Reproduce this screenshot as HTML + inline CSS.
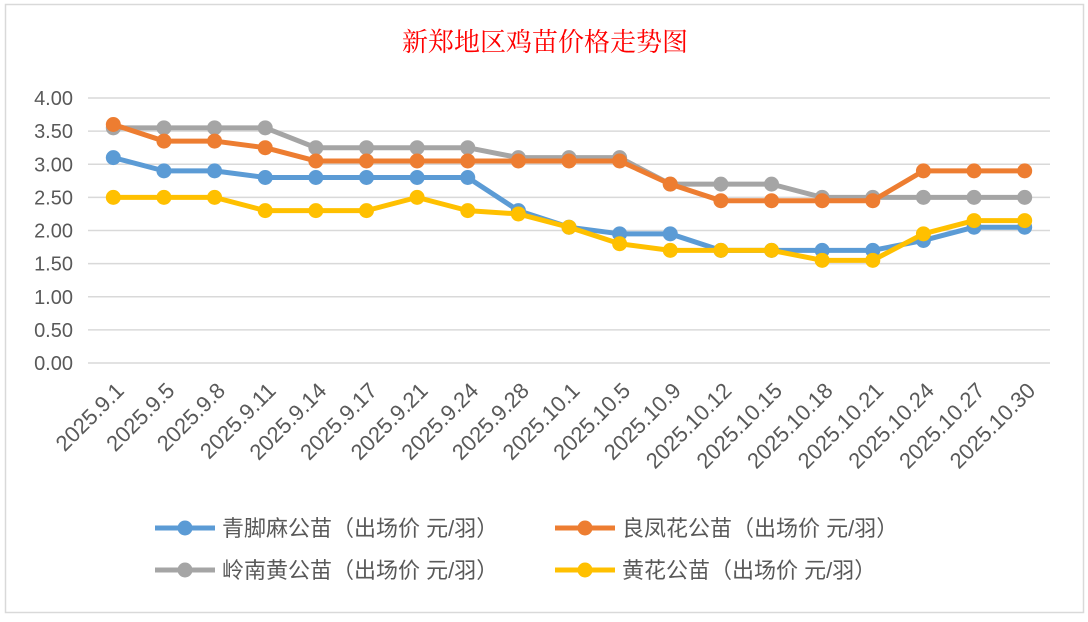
<!DOCTYPE html>
<html><head><meta charset="utf-8">
<style>
html,body{margin:0;padding:0;background:#fff;}
body{width:1088px;height:617px;overflow:hidden;position:relative;font-family:"Liberation Sans","Noto Sans CJK SC",sans-serif;}
</style></head>
<body>
<svg id="chart" width="1088" height="617" xmlns="http://www.w3.org/2000/svg">
<rect x="5.5" y="4.5" width="1078" height="608" fill="#fff" stroke="#d9d9d9" stroke-width="1.5"/>
<text x="545" y="51" text-anchor="middle" font-size="26" fill="#ff0000" font-family="'Noto Serif CJK SC','Liberation Serif',serif">新郑地区鸡苗价格走势图</text>
<g id="grid"></g><g id="yt"></g><g id="xt"></g><g id="series"></g><g id="legend"></g>
</svg>
<script>
const categories=["2025.9.1","2025.9.5","2025.9.8","2025.9.11","2025.9.14","2025.9.17","2025.9.21","2025.9.24","2025.9.28","2025.10.1","2025.10.5","2025.10.9","2025.10.12","2025.10.15","2025.10.18","2025.10.21","2025.10.24","2025.10.27","2025.10.30"];
const blueVals=[3.1,2.9,2.9,2.8,2.8,2.8,2.8,2.8,2.3,2.05,1.95,1.95,1.7,1.7,1.7,1.7,1.85,2.05,2.05];
const orangeVals=[3.6,3.35,3.35,3.25,3.05,3.05,3.05,3.05,3.05,3.05,3.05,2.7,2.45,2.45,2.45,2.45,2.9,2.9,2.9];
const grayVals=[3.55,3.55,3.55,3.55,3.25,3.25,3.25,3.25,3.1,3.1,3.1,2.7,2.7,2.7,2.5,2.5,2.5,2.5,2.5];
const yellowVals=[2.5,2.5,2.5,2.3,2.3,2.3,2.5,2.3,2.25,2.05,1.8,1.7,1.7,1.7,1.55,1.55,1.95,2.15,2.15];
const yTicks=[0,0.5,1,1.5,2,2.5,3,3.5,4];
const seriesNames=["青脚麻公苗（出场价 元/羽）","良凤花公苗（出场价 元/羽）","岭南黄公苗（出场价 元/羽）","黄花公苗（出场价 元/羽）"];
const NS="http://www.w3.org/2000/svg";
const X0=88,X1=1050,Y0=363,Y1=98;
const step=(X1-X0)/categories.length;
const x=i=>X0+step*(i+0.5);
const y=v=>Y0-(v/4)*(Y0-Y1);
function mk(tag,attrs,parent){const e=document.createElementNS(NS,tag);for(const k in attrs)e.setAttribute(k,attrs[k]);parent.appendChild(e);return e;}
const grid=document.getElementById('grid'),yt=document.getElementById('yt'),xt=document.getElementById('xt');
yTicks.forEach(t=>{
 const l=mk('line',{x1:X0,x2:X1,y1:y(t),y2:y(t),stroke:'#d9d9d9','stroke-width':1.5},grid);
 
 
 const tx=mk('text',{x:73,y:y(t)+7,'text-anchor':'end','font-size':20,fill:'#595959'},yt);
 tx.textContent=t.toFixed(2);
 
 
});
categories.forEach((c,i)=>{
 const ax=x(i)+12,ay=392;
 const tx=mk('text',{x:ax,y:ay,'text-anchor':'end','font-size':22,fill:'#595959',transform:`rotate(-45 ${ax} ${ay})`},xt);
 tx.textContent=c;
 
 
});
const colors=["#5b9bd5","#ed7d31","#a5a5a5","#ffc000"];
const data=[blueVals,orangeVals,grayVals,yellowVals];
const sg=document.getElementById('series');
[2,1,0,3].forEach(s=>{
 const g=mk('g',{},sg);
 
 
 const pts=data[s].map((v,i)=>x(i)+','+y(v)).join(' ');
 const pl=mk('polyline',{points:pts,fill:'none',stroke:colors[s],'stroke-width':5,'stroke-linejoin':'round'},g);
 
 
 data[s].forEach((v,i)=>{
  const c=mk('circle',{cx:x(i),cy:y(v),r:7.5,fill:colors[s]},g);
  
  
 });
});
const lg=document.getElementById('legend');
const lpos=[[155,528],[555,528],[155,570],[555,570]];
seriesNames.forEach((n,s)=>{
 const [lx,ly]=lpos[s];
 const g=mk('g',{},lg);
 
 
 mk('line',{x1:lx,x2:lx+60,y1:ly,y2:ly,stroke:colors[s],'stroke-width':5},g);
 mk('circle',{cx:lx+30,cy:ly,r:7.5,fill:colors[s]},g);
 const t=mk('text',{x:lx+67,y:ly+8,'font-size':22,fill:'#595959'},g);
 t.textContent=n;
});
</script>
</body></html>
